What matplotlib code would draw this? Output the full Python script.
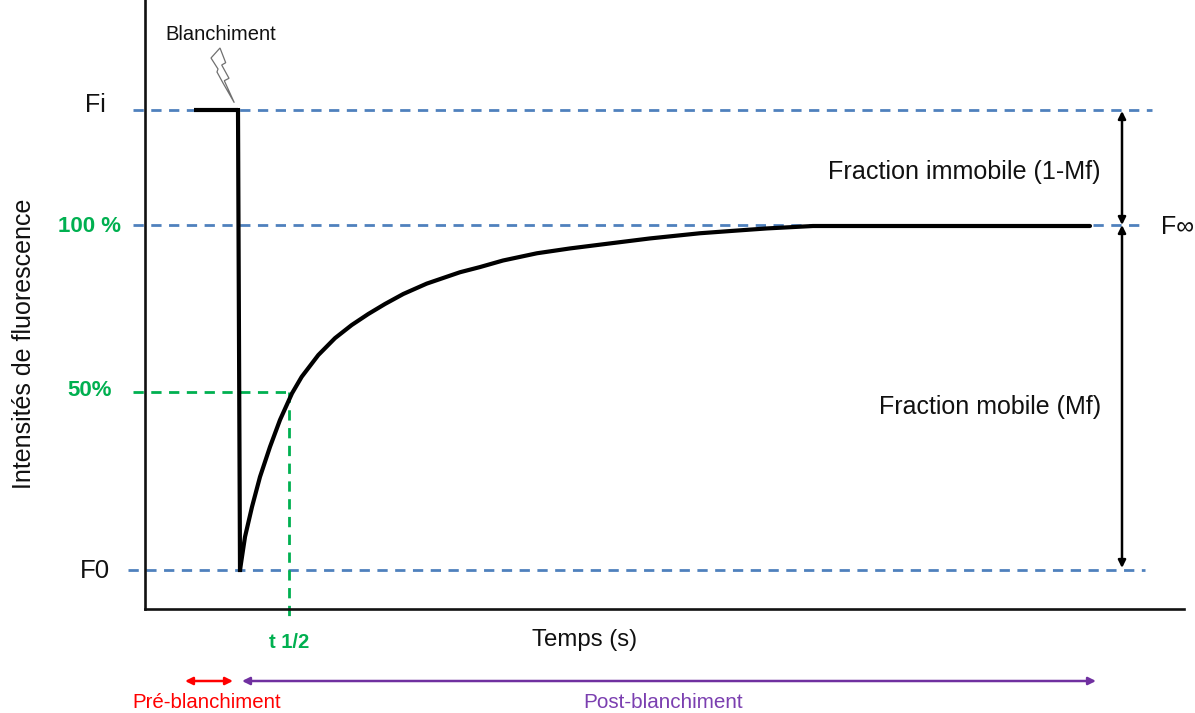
import matplotlib
matplotlib.use("Agg")
import matplotlib.pyplot as plt
from matplotlib.patches import Polygon, FancyArrowPatch

plt.rcParams['font.family'] = ['Liberation Sans', 'DejaVu Sans']

# Recovery curve (time in s, intensity in % of plateau)
time_pre = [-4.6, -0.2]
intensity_pre = [133.3, 133.3]
time_drop = [-0.2, 0.0]
intensity_drop = [133.3, 0.0]
time_post = [0, 0.5, 1.2, 2, 3, 4, 5.2, 6.17, 7.83, 9.5, 11.17, 12.83, 14.5, 16.33, 18.67, 22, 24,
             26.3, 29.7, 33, 36.3, 41, 46, 49.3, 52.7, 56, 57.3, 85]
intensity_post = [0, 9.6, 18.3, 27.0, 35.7, 43.5, 51.2, 56.0, 62.3, 67.2, 71.0, 74.2, 77.1, 80.0,
                  83.0, 86.3, 87.8, 89.7, 91.8, 93.2, 94.4, 96.1, 97.6, 98.3, 99.0, 99.5, 99.7, 99.7]
# Reference levels
level_fi = 133.3
level_100 = 100
level_50 = 51.6
level_f0 = 0
t_half = 4.93

BLUE = '#4F81BD'
GREEN = '#00B050'
RED = '#FF0000'
PURPLE = '#7030A0'
W, H = 1195, 713

fig = plt.figure(figsize=(W/100, H/100), dpi=100)
ax = fig.add_axes([145/W, 1-609/H, (W-145)/W, 609/H])
ax.set_xlim(-9.5, 95.5)
ax.set_ylim(-11.3, 165.2)
ax.patch.set_alpha(0)
for s in ('top', 'right'):
    ax.spines[s].set_visible(False)
for s in ('left', 'bottom'):
    ax.spines[s].set_linewidth(1.9)
    ax.spines[s].set_color('#111111')
ax.spines['bottom'].set_bounds(-9.5, 94.4)
ax.set_xticks([])
ax.set_yticks([])

def tx(px):
    return (px-240)/10.0

dash = (3.7, 2.7)
kw = dict(color=BLUE, lw=2.0, dashes=dash, clip_on=False, zorder=1)
ax.plot([tx(133), tx(1152)], [level_fi]*2, **kw)
ax.plot([tx(133), tx(1145)], [level_100]*2, **kw)
ax.plot([tx(128), tx(1145)], [level_f0]*2, **kw)

gkw = dict(color=GREEN, lw=2.0, dashes=dash, clip_on=False, zorder=1)
ax.plot([tx(133), t_half], [level_50]*2, **gkw)
ax.plot([t_half, t_half], [level_50, -15.0], **gkw)

ax.plot(time_pre, intensity_pre, color='black', lw=3.0, solid_capstyle='butt', zorder=3)
ax.plot(time_drop, intensity_drop, color='black', lw=3.0, solid_capstyle='projecting', zorder=3)
ax.plot(time_post, intensity_post, color='black', lw=3.0, solid_capstyle='round', zorder=3)

def arrow(x0, y0, x1, y1, color, lw=1.8, ms=11):
    fig.add_artist(FancyArrowPatch(
        (x0/W, 1-y0/H), (x1/W, 1-y1/H), transform=fig.transFigure,
        arrowstyle='<|-|>', mutation_scale=ms, color=color, lw=lw,
        shrinkA=0, shrinkB=0))

arrow(1122, 111, 1122, 225, 'black')
arrow(1122, 225, 1122, 568, 'black')
arrow(185, 681, 233, 681, RED)
arrow(242, 681, 1096, 681, PURPLE)

bolt = [(220, 48), (211, 58), (218, 69), (217, 72), (223, 83), (234.3, 102.7),
        (224.3, 80.7), (229, 78.3), (221.7, 65), (225.7, 62.7)]
fig.add_artist(Polygon([(x/W, 1-y/H) for x, y in bolt], closed=True, transform=fig.transFigure,
                       facecolor='white', edgecolor='#707070', lw=0.9))

def t(x, y, s, size, color='#111111', weight='normal', rot=0):
    fig.text(x/W, 1-(y+2)/H, s, fontsize=size, color=color, ha='center', va='center',
             fontweight=weight, rotation=rot)

t(221, 33, 'Blanchiment', 14.5)
t(95, 103, 'Fi', 18)
t(95, 569, 'F0', 18.5)
t(89, 224, '100 %', 16, GREEN, weight='bold')
t(90, 389, '50%', 16, GREEN, weight='bold')
t(24, 342, 'Intensités de fluorescence', 18, rot=90)
t(964.5, 170, 'Fraction immobile (1-Mf)', 18.1)
t(990.5, 405, 'Fraction mobile (Mf)', 18)
t(1178, 225, 'F∞', 18)
t(289, 640, 't 1/2', 14.5, GREEN, weight='bold')
t(585, 638, 'Temps (s)', 17.3)
t(207, 700, 'Pré-blanchiment', 14.7, RED)
t(663.5, 700, 'Post-blanchiment', 14.9, '#7B3FB0')

fig.savefig('out.png', dpi=100)
